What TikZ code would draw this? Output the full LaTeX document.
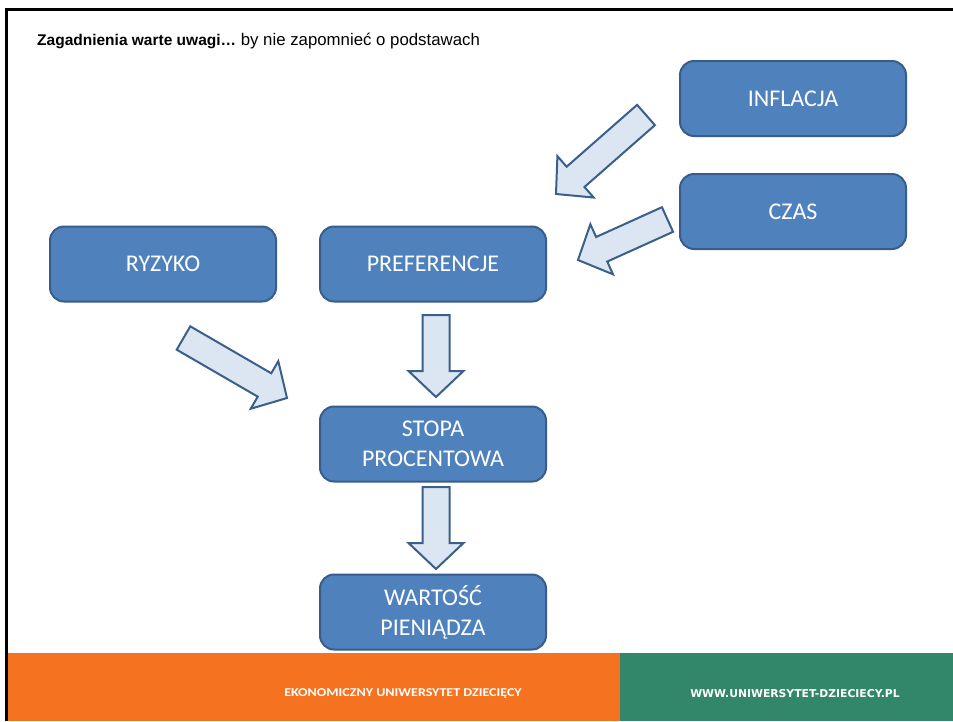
\documentclass[tikz,border=0pt]{standalone}
\usepackage{fontspec}
\setmainfont{Carlito}
\newfontfamily\arialf{Liberation Sans}
\newfontfamily\verdf{DejaVu Sans}
\usetikzlibrary{calc}
\definecolor{boxblue}{HTML}{4F81BD}
\definecolor{boxedge}{HTML}{385D8A}
\definecolor{arrfill}{HTML}{DCE6F2}
\definecolor{arredge}{HTML}{3A5F8B}
\definecolor{footorange}{HTML}{F57320}
\definecolor{footgreen}{HTML}{32876A}
\tikzset{
  topic/.style={draw=boxedge, fill=boxblue, line width=2pt, rounded corners=14pt,
    minimum width=226pt, minimum height=75pt, inner sep=0pt, text=white,
    align=center, font=\fontsize{24}{30}\selectfont},
  blockarr/.style={draw=arredge, fill=arrfill, line width=2pt, line join=miter},
}
\newcommand\blockarrow[2]{%
  \coordinate (h#1) at ($(#2)!26pt!(#1)$);
  \filldraw[blockarr] ($(#1)!13.5pt!90:(#2)$) -- ($(h#1)!13.5pt!90:(#2)$)
    -- ($(h#1)!27.5pt!90:(#2)$) -- (#2) -- ($(h#1)!27.5pt!-90:(#2)$)
    -- ($(h#1)!13.5pt!-90:(#2)$) -- ($(#1)!13.5pt!-90:(#2)$) -- cycle;}
\begin{document}
\begin{tikzpicture}[x=1pt,y=-1pt]
\useasboundingbox (0,0) rectangle (953,721);
\fill[white] (0,0) rectangle (953,721);
% footer
\fill[footorange] (8,653) rectangle (620,721);
\fill[footgreen] (620,653) rectangle (953,721);
\node[text=white, font=\bfseries\fontsize{12}{14}\selectfont] (foot1) at (403,694) {\scalebox{1.17}[1]{EKONOMICZNY UNIWERSYTET DZIECIĘCY}};
\node[text=white, font=\verdf\bfseries\fontsize{10.8}{12}\selectfont] (foot2) at (795,694) {WWW.UNIWERSYTET-DZIECIECY.PL};
% frame
\draw[line width=3pt] (6.5,721) -- (6.5,9.5) -- (953,9.5);
% title
\node[anchor=base west, inner sep=0pt, font=\arialf] (title) at (37,45)
  {{\bfseries\fontsize{15.5}{18}\selectfont Zagadnienia warte uwagi…}\fontsize{16.8}{18}\selectfont\ by nie zapomnieć o podstawach};
% boxes
\node[topic] (inf) at (793,98.5) {INFLACJA};
\node[topic] (czas) at (793,211.5) {CZAS};
\node[topic] (ryz) at (163,264) {RYZYKO};
\node[topic] (pref) at (433,264) {PREFERENCJE};
\node[topic] (stopa) at (433,444) {STOPA\\PROCENTOWA};
\node[topic] (wart) at (433,612) {WARTOŚĆ\\PIENIĄDZA};
% arrows
\coordinate (a1s) at (646,115); \coordinate (a1e) at (556,194);
\coordinate (a2s) at (667.5,219.5); \coordinate (a2e) at (578,260);
\coordinate (a3s) at (183.5,338); \coordinate (a3e) at (287,398);
\coordinate (a4s) at (436,315); \coordinate (a4e) at (436,397);
\coordinate (a5s) at (436,487); \coordinate (a5e) at (436,569);
\blockarrow{a1s}{a1e}
\blockarrow{a2s}{a2e}
\blockarrow{a3s}{a3e}
\blockarrow{a4s}{a4e}
\blockarrow{a5s}{a5e}
\end{tikzpicture}
\end{document}
